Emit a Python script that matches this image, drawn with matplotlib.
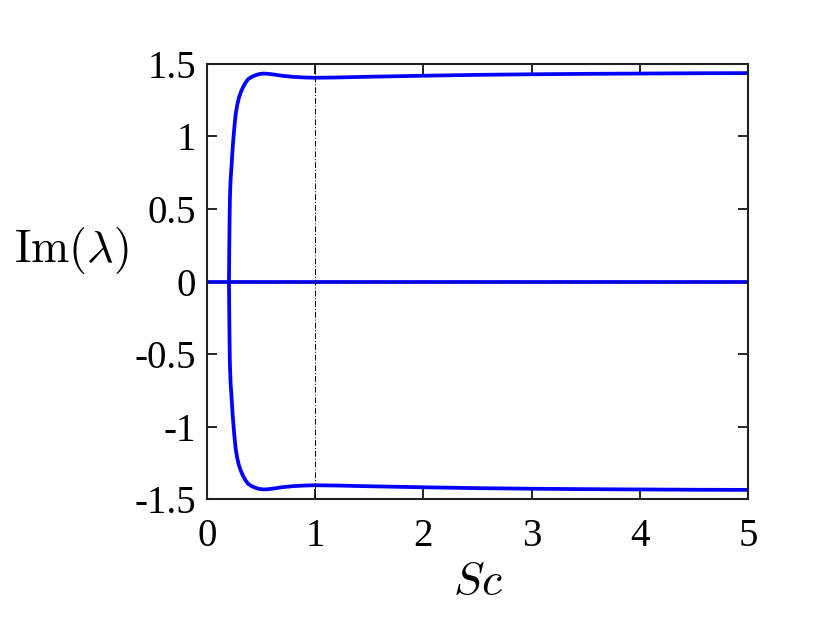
import matplotlib
matplotlib.use('Agg')
import matplotlib.pyplot as plt

# Upper branch of Im(lambda) vs Sc (lower branch is its mirror)
sc_branch = [0.203, 0.206, 0.209, 0.212, 0.218, 0.228, 0.238, 0.25, 0.265, 0.28,
             0.296, 0.315, 0.333, 0.355, 0.38, 0.41, 0.44, 0.48, 0.52, 0.57,
             0.63, 0.70, 0.80, 0.90, 1.0, 1.2, 1.5, 2.0, 2.5, 3.0, 3.5, 4.0,
             4.5, 5.0]
im_upper = [0.0, 0.25, 0.44, 0.58, 0.70, 0.81, 0.93, 1.04, 1.155, 1.22,
            1.27, 1.31, 1.34, 1.37, 1.395, 1.41, 1.42, 1.43, 1.434, 1.432,
            1.426, 1.418, 1.411, 1.407, 1.405, 1.407, 1.412, 1.419, 1.425, 1.429, 1.432, 1.434,
            1.436, 1.437]
im_lower = [-v for v in im_upper]

sc_zero = [0.0, 5.0]
im_zero = [0.0, 0.0]

sc_marker = 1.0

xticks = [0, 1, 2, 3, 4, 5]
yticks = [-1.5, -1, -0.5, 0, 0.5, 1, 1.5]
yticklabels = ['-1.5', '-1', '-0.5', '0', '0.5', '1', '1.5']

plt.rcParams['font.family'] = 'Liberation Serif'
plt.rcParams['mathtext.fontset'] = 'cm'

fig = plt.figure(figsize=(8.3, 6.23), dpi=100)
ax = fig.add_axes([0.2494, 0.199, 0.6518, 0.6983])

ax.plot(sc_branch, im_upper, color='#0000ff', lw=2.7)
ax.plot(sc_branch, im_lower, color='#0000ff', lw=2.7)
ax.plot(sc_zero, im_zero, color='#0000ff', lw=2.7)
ax.plot(sc_zero, im_zero, color='#10108a', lw=1.0, dashes=(4, 3))
ax.axvline(sc_marker, color='black', lw=0.7, dashes=(6, 2, 1, 2))

ax.set_xlim(0, 5)
ax.set_ylim(-1.5, 1.5)
ax.set_xticks(xticks)
ax.set_yticks(yticks)
ax.set_yticklabels(yticklabels)
ax.tick_params(direction='in', length=7, width=1.2, labelsize=28,
               top=True, right=True, pad=8)
ax.tick_params(axis='x', pad=14)
for s in ax.spines.values():
    s.set_linewidth(1.5)
    s.set_color('#222222')

ax.set_xlabel(r'$Sc$', fontsize=33, labelpad=4)
ax.set_ylabel(r'$\mathrm{Im}(\lambda)$', fontsize=33, rotation=0)
ax.yaxis.set_label_coords(-0.25, 0.572)
ax.yaxis.label.set_va('center')

fig.savefig('out.png', dpi=100)
